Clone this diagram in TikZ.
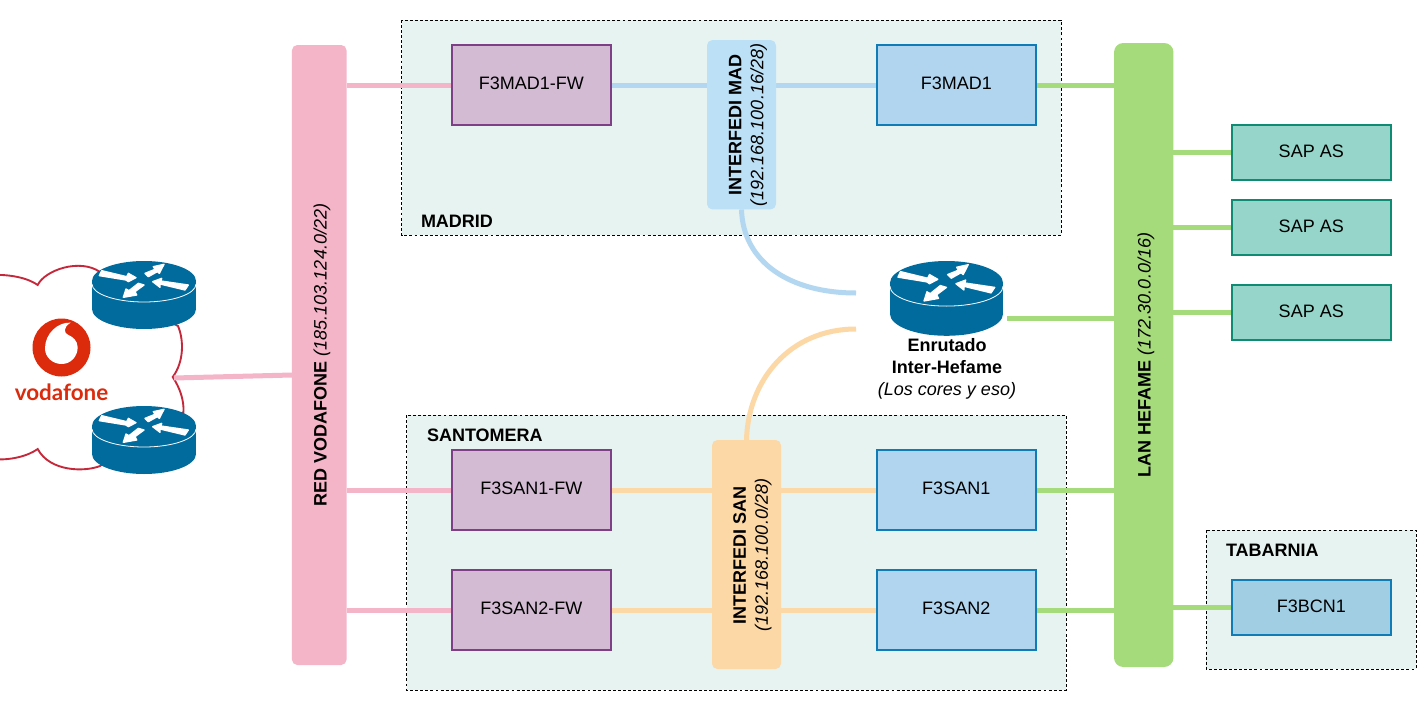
\documentclass[tikz,border=0pt]{standalone}
\usepackage{fontspec}
\setmainfont{Liberation Sans}
\newfontfamily\vodafont{Lato}
\pgfdeclarelayer{back}
\pgfdeclarelayer{wires}
\pgfsetlayers{back,wires,main}
\definecolor{regionfill}{HTML}{E7F3F0}
\definecolor{pinkbus}{HTML}{F4B5C9}
\definecolor{greenbus}{HTML}{A5DB7A}
\definecolor{bluelink}{HTML}{B3D7F0}
\definecolor{orangelink}{HTML}{FDD8A7}
\definecolor{interblue}{HTML}{BCE0F5}
\definecolor{fwfill}{HTML}{D3BCD3}
\definecolor{fwline}{HTML}{7F3F87}
\definecolor{corefill}{HTML}{B1D5EF}
\definecolor{coreline}{HTML}{0F7CB8}
\definecolor{bcnfill}{HTML}{A1CEE3}
\definecolor{sapfill}{HTML}{96D5C9}
\definecolor{sapline}{HTML}{0F8B73}
\definecolor{routerblue}{HTML}{006B9C}
\definecolor{cloudred}{HTML}{C4283A}
\definecolor{vodared}{HTML}{DC2A0C}
\tikzset{
  every node/.style={font=\fontsize{13.5}{16.5}\selectfont, text=black, inner sep=0pt, outer sep=0pt},
  region/.style={draw=black, dashed, dash pattern=on 2.2pt off 1.6pt, line width=0.75pt, fill=regionfill},
  regionlabel/.style={font=\fontsize{13.5}{16.5}\selectfont\bfseries, anchor=base west},
  hostbox/.style={rectangle, line width=1.5pt, minimum width=119.5pt, minimum height=60pt},
  smallbox/.style={rectangle, line width=1.5pt, minimum width=119.5pt, minimum height=41.25pt},
  fwbox/.style={hostbox, draw=fwline, fill=fwfill},
  corebox/.style={hostbox, draw=coreline, fill=corefill},
  sapbox/.style={smallbox, draw=sapline, fill=sapfill},
  bcnbox/.style={smallbox, draw=coreline, fill=bcnfill},
  pinklink/.style={draw=pinkbus, line width=3.75pt},
  greenlink/.style={draw=greenbus, line width=3.75pt},
  bluewire/.style={draw=bluelink, line width=3.75pt},
  orangewire/.style={draw=orangelink, line width=3.75pt},
  routericon/.pic={
    \fill[routerblue] (-52,0) rectangle (52,28);
    \fill[routerblue] (0,0) ellipse [x radius=52, y radius=20];
    \fill[routerblue] (0,28) ellipse [x radius=52, y radius=20];
    \draw[white, line width=0.6pt] (-52,3) arc [start angle=180, end angle=0, x radius=52, y radius=18];
    \begin{scope}[scale=1/3, fill=white, draw=white, line width=1pt, line join=round]
      \filldraw (-127,-31) -- (-52,-13) -- (-47,-23) -- (-24,-10) -- (-47,2) -- (-54,-3) -- (-134,-16) -- cycle;
      \filldraw (3,-23) -- (33,-35) -- (28,-43) -- (60,-50) -- (46,-23) -- (40,-28) -- (13,-13) -- cycle;
      \filldraw (26,2) -- (53,-8) -- (51,0) -- (133,12) -- (123,27) -- (48,9) -- (48,19) -- cycle;
      \filldraw (-17,7) -- (0,12) -- (-27,32) -- (-22,42) -- (-62,49) -- (-54,24) -- (-45,29) -- cycle;
    \end{scope}
  }
}
\newcommand{\boxtext}[1]{\raisebox{2.2pt}{#1}}
\begin{document}
\begin{tikzpicture}[x=0.75pt,y=-0.75pt]
\useasboundingbox (0,0) rectangle (1428,703);

% regions
\begin{pgfonlayer}{back}
\fill[white] (0,0) rectangle (1428,703);
\draw[region] (401.5,20) rectangle (1061,235);
\draw[region] (406.5,415) rectangle (1066,690);
\draw[region] (1206,530) rectangle (1416,669);
\node[regionlabel] (lmad) at (421,227) {MADRID};
\node[regionlabel] (lsan) at (427,441) {SANTOMERA};
\node[regionlabel] (ltab) at (1226,556) {TABARNIA};
\end{pgfonlayer}

% cloud
\begin{scope}
\clip (0,0) rectangle (1428,703);
\draw[cloudred, line width=1.4pt, fill=white]
  (-10,275) .. controls (10,274) and (28,278) .. (37.7,285)
  .. controls (45,270) and (80,258) .. (100,272)
  -- (130,300) -- (178,326)
  .. controls (184,340) and (184,362) .. (172.7,377)
  .. controls (180,388) and (184,400) .. (183.5,412)
  -- (140,440) -- (100,466)
  .. controls (85,472) and (50,472) .. (37.7,449)
  .. controls (28,456) and (10,461) .. (-10,459) -- cycle;
\end{scope}

% vodafone logo
\fill[vodared] (61.5,347.5) circle [radius=29];
\begin{scope}[shift={(0,240)},scale=1/3]
  \fill[white] (212,248) .. controls (175,245) and (135,280) .. (135,325)
    .. controls (135,352) and (158,372) .. (185,372)
    .. controls (212,372) and (233,350) .. (233,322)
    .. controls (233,302) and (218,290) .. (205,285)
    .. controls (192,280) and (188,262) .. (212,248) -- cycle;
\end{scope}
\node[font=\fontsize{16.8}{18}\vodafont\bfseries\selectfont, text=vodared] (vodatext) at (61.5,392) {vodafone};

% routers
\pic at (144,281) {routericon};
\pic at (144,426) {routericon};
\pic[xscale=1.087, yscale=1.1] at (946.5,283) {routericon};
\node[align=center, anchor=north] (enrutado) at (947,338.5)
  {\textbf{Enrutado}\\\textbf{Inter-Hefame}\\\textit{(Los cores y eso)}};

% buses and interfedi blocks
\node[fill=pinkbus, rounded corners=4pt, minimum width=40.9pt, minimum height=465pt] (vodbus) at (319.25,355) {};
\node[fill=greenbus, rounded corners=7pt, minimum width=44.6pt, minimum height=468pt] (lanbus) at (1143.75,355) {};
\node[fill=interblue, rounded corners=4pt, minimum width=51.75pt, minimum height=127pt] (intermad) at (741.5,124.75) {};
\node[fill=orangelink, rounded corners=4pt, minimum width=51.75pt, minimum height=171.75pt] (intersan) at (746.5,554.5) {};

% connector end points
\coordinate (cloudE) at (174,378);
\coordinate (rtE) at (1007,318);
\coordinate (blueEnd) at (856,293);
\coordinate (orangeEnd) at (856,329);
\coordinate (vodW) at (vodbus.west |- 0,375);

% boxes
\node[fwbox] (fwmad) at (531.25,85) {\boxtext{F3MAD1-FW}};
\node[corebox] (mad) at (956.25,85) {\boxtext{F3MAD1}};
\node[fwbox] (fwsan1) at (531.25,490) {\boxtext{F3SAN1-FW}};
\node[corebox] (san1) at (956.25,490) {\boxtext{F3SAN1}};
\node[fwbox] (fwsan2) at (531.25,610) {\raisebox{2.6pt}{F3SAN2-FW}};
\node[corebox] (san2) at (956.25,610) {\raisebox{2.6pt}{F3SAN2}};
\node[sapbox] (sap1) at (1311.25,152.5) {\boxtext{SAP AS}};
\node[sapbox] (sap2) at (1311.25,227.5) {\boxtext{SAP AS}};
\node[sapbox] (sap3) at (1311.25,312.5) {\boxtext{SAP AS}};
\node[bcnbox] (bcn) at (1311.25,607.5) {\boxtext{F3BCN1}};

\begin{pgfonlayer}{wires}
\draw[pinklink] (fwmad.west -| vodbus.east) -- (fwmad.west);
\draw[pinklink] (fwsan1.west -| vodbus.east) -- (fwsan1.west);
\draw[pinklink] (fwsan2.west -| vodbus.east) -- (fwsan2.west);
\draw[bluewire] (fwmad.east) -- (mad.west);
\draw[orangewire] (fwsan1.east) -- (san1.west);
\draw[orangewire] (fwsan2.east) -- (san2.west);
\draw[greenlink] (mad.east) -- (mad.east -| lanbus.west);
\draw[greenlink] (san1.east) -- (san1.east -| lanbus.west);
\draw[greenlink] (san2.east) -- (san2.east -| lanbus.west);
\draw[greenlink] (sap1.west -| lanbus.east) -- (sap1.west);
\draw[greenlink] (sap2.west -| lanbus.east) -- (sap2.west);
\draw[greenlink] (sap3.west -| lanbus.east) -- (sap3.west);
\draw[greenlink] (bcn.west -| lanbus.east) -- (bcn.west);
\draw[greenlink] (rtE) -- (rtE -| lanbus.west);
\draw[bluewire] (intermad.south) .. controls +(1.5,53) and +(-66,0) .. (blueEnd);
\draw[orangewire] (intersan.north) .. controls +(1.5,-60) and +(-66,0) .. (orangeEnd);
\end{pgfonlayer}
\draw[pinklink] (cloudE) -- (vodW);

% bus labels
\node[rotate=90] (vodlabel) at (322,355) {\textbf{RED VODAFONE} \textit{(185.103.124.0/22)}};
\node[rotate=90] (lanlabel) at (1146,355) {\textbf{LAN HEFAME} \textit{(172.30.0.0/16)}};
\node[rotate=90, align=center] (madlabel) at (748,125) {\textbf{INTERFEDI MAD}\\\textit{(192.168.100.16/28)}};
\node[rotate=90, align=center] (sanlabel) at (752.5,555) {\textbf{INTERFEDI SAN}\\\textit{(192.168.100.0/28)}};
\end{tikzpicture}
\end{document}
